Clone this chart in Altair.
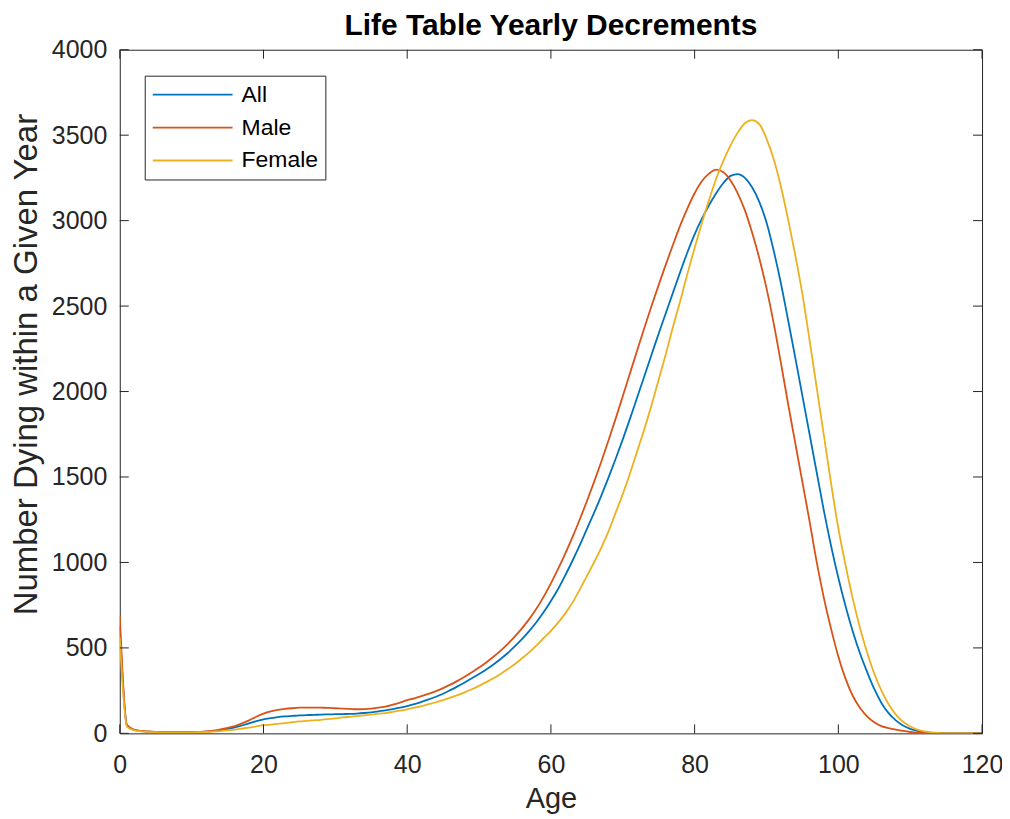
import altair as alt
import pandas as pd

ages = list(range(0, 121))

all_vals = [
    630, 45, 20, 13, 10, 8, 7, 7, 7, 7,
    7, 8, 10, 13, 18, 26, 35, 46, 58, 71,
    82, 89, 95, 99, 102, 105, 107, 108, 110, 111,
    112, 113, 114, 116, 119, 123, 129, 135, 142, 150,
    160, 171, 184, 199, 214, 232, 253, 275, 298, 322,
    347, 374, 403, 435, 470, 510, 553, 600, 652, 710,
    775, 845, 925, 1010, 1100, 1195, 1290, 1390, 1495, 1605,
    1720, 1840, 1965, 2090, 2215, 2340, 2460, 2580, 2700, 2815,
    2920, 3010, 3090, 3160, 3220, 3262, 3272, 3250, 3195, 3110,
    2990, 2825, 2635, 2420, 2200, 1975, 1750, 1525, 1300, 1095,
    910, 745, 598, 470, 360, 260, 178, 118, 76, 46,
    26, 14, 7, 3, 1, 0, 0, 0, 0, 0,
    0,
]

male_vals = [
    690, 50, 22, 14, 11, 9, 8, 7, 7, 7,
    8, 9, 11, 16, 23, 32, 43, 58, 76, 97,
    115, 128, 137, 143, 147, 150, 151, 151, 150, 149,
    147, 145, 143, 141, 142, 145, 150, 157, 168, 180,
    194, 205, 218, 232, 247, 265, 285, 307, 331, 357,
    385, 415, 448, 484, 524, 568, 616, 670, 730, 800,
    878, 962, 1052, 1148, 1250, 1358, 1470, 1588, 1712, 1840,
    1972, 2106, 2240, 2372, 2500, 2624, 2744, 2860, 2972, 3072,
    3160, 3230, 3275, 3298, 3283, 3235, 3160, 3060, 2930, 2780,
    2605, 2400, 2170, 1930, 1700, 1470, 1240, 1000, 790, 610,
    450, 320, 220, 150, 100, 65, 42, 30, 22, 14,
    8, 4, 2, 1, 0, 0, 0, 0, 0, 0,
    0,
]

female_vals = [
    560, 40, 18, 12, 9, 7, 6, 6, 6, 6,
    6, 7, 8, 10, 13, 17, 22, 28, 34, 41,
    48, 51, 55, 60, 65, 70, 73, 76, 79, 83,
    88, 93, 97, 101, 105, 110, 115, 119, 126, 133,
    141, 150, 160, 171, 182, 195, 209, 224, 240, 258,
    278, 300, 322, 348, 376, 406, 440, 475, 515, 558,
    600, 648, 702, 765, 840, 920, 1000, 1085, 1180, 1290,
    1400, 1520, 1650, 1780, 1920, 2070, 2220, 2380, 2530, 2690,
    2840, 2985, 3120, 3245, 3350, 3440, 3515, 3570, 3588, 3565,
    3480, 3360, 3200, 3010, 2800, 2570, 2300, 2020, 1740, 1460,
    1200, 985, 790, 620, 475, 350, 250, 170, 110, 68,
    40, 22, 11, 5, 2, 0, 0, 0, 0, 0,
    0,
]

series_names = ["All", "Male", "Female"]
series_colors = ["#0072BD", "#D95319", "#EDB120"]
x_ticks = [0, 20, 40, 60, 80, 100, 120]
y_ticks = [0, 500, 1000, 1500, 2000, 2500, 3000, 3500, 4000]

df = pd.DataFrame({
    "Age": ages * 3,
    "Value": all_vals + male_vals + female_vals,
    "Series": ["All"] * len(ages) + ["Male"] * len(ages) + ["Female"] * len(ages),
    "Order": [0] * len(ages) + [1] * len(ages) + [2] * len(ages),
})

W, H = 864, 685
FONT = "Liberation Sans"
AX = "#262626"

x_scale = alt.Scale(domain=[0, 120], nice=False, zero=False)
y_scale = alt.Scale(domain=[0, 4000], nice=False, zero=False)

x_axis = alt.Axis(values=x_ticks, title="Age", ticks=False, domain=False, grid=False,
                  format="d", labelFlush=False,
                  labelFont=FONT, labelFontSize=25, labelColor=AX, labelPadding=19,
                  titleFont=FONT, titleFontSize=29, titleColor=AX, titleFontWeight="normal",
                  titlePadding=7)
y_axis = alt.Axis(values=y_ticks, title="Number Dying within a Given Year", ticks=False,
                  domain=False, grid=False, format="d", labelFlush=False,
                  labelFont=FONT, labelFontSize=25, labelColor=AX, labelPadding=13,
                  titleFont=FONT, titleFontSize=33, titleColor=AX, titleFontWeight="normal",
                  titleAngle=270, titleAlign="center", titleBaseline="middle",
                  titleX=-93, titleY=315)

lines = alt.Chart(df).mark_line(strokeWidth=1.8, clip=True, interpolate="monotone").encode(
    x=alt.X("Age:Q", scale=x_scale, axis=x_axis),
    y=alt.Y("Value:Q", scale=y_scale, axis=y_axis),
    color=alt.Color("Series:N", sort=series_names,
                    scale=alt.Scale(domain=series_names, range=series_colors),
                    legend=alt.Legend(title=None, orient="none", legendX=25, legendY=26,
                                      symbolType="stroke", symbolSize=6400, symbolStrokeWidth=1.8,
                                      labelFont=FONT, labelFontSize=23, labelColor="#000000",
                                      labelOffset=8, clipHeight=24, rowPadding=9,
                                      padding=7, strokeColor=AX, fillColor="white",
                                      cornerRadius=0)),
    order=alt.Order("Order:Q"),
)

xt = pd.DataFrame({"Age": x_ticks})
yt = pd.DataFrame({"Value": y_ticks})

tick_style = dict(color=AX, strokeWidth=1)
bottom_ticks = alt.Chart(xt).mark_rule(**tick_style).encode(
    x=alt.X("Age:Q", scale=x_scale, axis=x_axis), y=alt.value(H), y2=alt.value(H - 9))
top_ticks = alt.Chart(xt).mark_rule(**tick_style).encode(
    x=alt.X("Age:Q", scale=x_scale, axis=x_axis), y=alt.value(0), y2=alt.value(9))
left_ticks = alt.Chart(yt).mark_rule(**tick_style).encode(
    y=alt.Y("Value:Q", scale=y_scale, axis=y_axis), x=alt.value(0), x2=alt.value(9))
right_ticks = alt.Chart(yt).mark_rule(**tick_style).encode(
    y=alt.Y("Value:Q", scale=y_scale, axis=y_axis), x=alt.value(W), x2=alt.value(W - 9))

chart = alt.layer(lines, bottom_ticks, top_ticks, left_ticks, right_ticks).properties(
    width=W, height=H,
    title=alt.TitleParams("Life Table Yearly Decrements", font=FONT, fontSize=30,
                          fontWeight="bold", color="#000000", offset=-3, anchor="middle",
                          frame="group"),
    autosize=alt.AutoSizeParams(type="none"),
    padding={"left": 112, "top": 41, "right": 20, "bottom": 85},
).configure_view(stroke=AX, strokeWidth=1).configure_legend(strokeWidth=1)

chart.save("out.html", embed_options={"renderer": "svg", "actions": False})
